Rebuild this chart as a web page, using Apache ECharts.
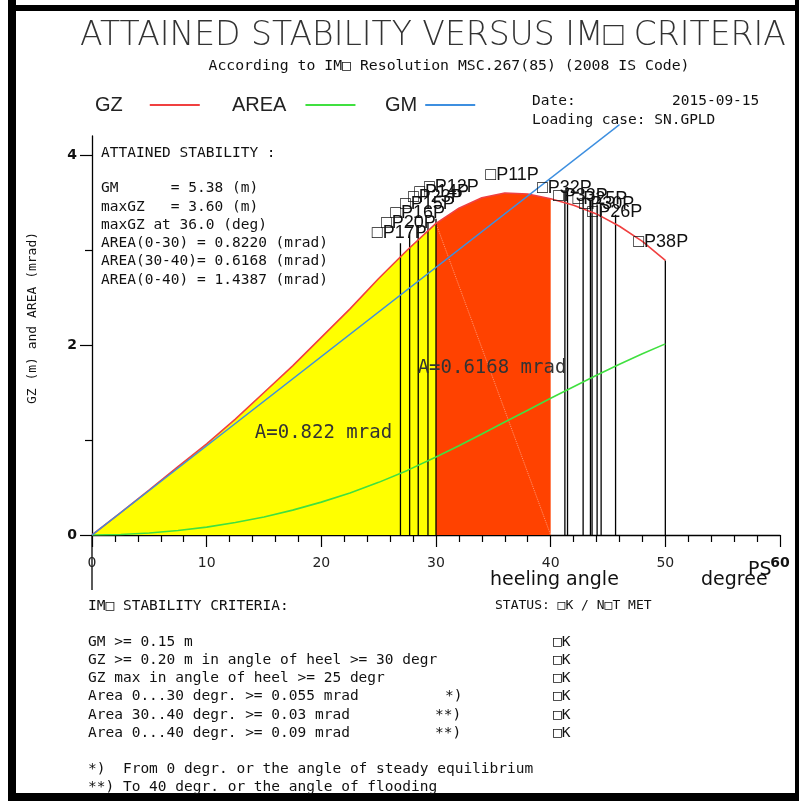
<!DOCTYPE html>
<html><head><meta charset="utf-8">
<script src="https://cdn.jsdelivr.net/npm/echarts@6/dist/echarts.min.js"></script>
<style>html,body{margin:0;padding:0;background:#fff;}#c{width:799px;height:801px;}</style>
</head><body><div id="c"></div>
<script>
// ---- data ----
const gzAngles   = [0,2.5,5,7.5,10,12.5,15,17.5,20,22.5,25,27.5,30,32,34,36,38,40,42,44,46,48,50];
const gzValues   = [0,0.235,0.475,0.72,0.96,1.22,1.50,1.78,2.08,2.38,2.70,3.00,3.28,3.44,3.55,3.60,3.59,3.54,3.47,3.38,3.25,3.09,2.89];
const areaValues = [0,0.005,0.021,0.047,0.083,0.131,0.19,0.262,0.346,0.443,0.554,0.68,0.822,0.94,1.063,1.189,1.314,1.439,1.561,1.681,1.797,1.907,2.012];
const gmAngles = [0, 46.0];
const gmValues = [0, 4.32];
const floodAngles = [26.9,27.7,28.45,29.3,30.0,41.24,41.47,42.83,43.47,43.61,44.05,44.40,45.66,50.0];
const floodTops   = [3.07,3.19,3.26,3.29,3.33,3.63,3.63,3.56,3.53,3.53,3.48,3.46,3.37,2.89];
const pointNames  = ['□P17P','□P20P','□P16P','□P15P','□P23P','□P14P','□P12P','□P11P','□P32P','□P33P','□P25P','□P30P','□P26P','□P38P'];
const pointAngles = [24.4,25.2,26.0,26.85,27.55,28.1,28.95,34.3,38.8,40.2,41.9,42.5,43.2,47.2];
const pointValues = [3.18,3.28,3.39,3.48,3.56,3.61,3.66,3.79,3.65,3.57,3.54,3.48,3.40,3.08];
const areaLabels = ['A=0.822 mrad','A=0.6168 mrad'];
const areaLabelAngles = [14.2, 28.4];
const areaLabelValues = [1.07, 1.76];
const yLabelValues = [0,2,4];
const yMinorValues = [1,3];
const criteriaRows = ['GM >= 0.15 m','GZ >= 0.20 m in angle of heel >= 30 degr','GZ max in angle of heel >= 25 degr','Area 0...30 degr. >= 0.055 mrad','Area 30..40 degr. >= 0.03 mrad','Area 0...40 degr. >= 0.09 mrad'];
const criteriaMarks = ['','','','*)','**)','**)'];
const criteriaStatus = ['□K','□K','□K','□K','□K','□K'];
const infoLines = ['ATTAINED STABILITY :','','GM      = 5.38 (m)','maxGZ   = 3.60 (m)','maxGZ at 36.0 (deg)','AREA(0-30) = 0.8220 (mrad)','AREA(30-40)= 0.6168 (mrad)','AREA(0-40) = 1.4387 (mrad)'];

// ---- build ----
const gz = gzAngles.map((a,i)=>[a,gzValues[i]]);
const area = gzAngles.map((a,i)=>[a,areaValues[i]]);
const gm = gmAngles.map((a,i)=>[a,gmValues[i]]);
const yellow = gz.filter(p=>p[0]<=30);
const orange = gz.filter(p=>p[0]>=30 && p[0]<=40);
const diag = [gz.find(p=>p[0]===30), [40,0]];
const flood = floodAngles.map((a,i)=>[a,floodTops[i]]);
const points = pointAngles.map((a,i)=>[a,pointValues[i]]);
const aLabels = areaLabelAngles.map((a,i)=>[a,areaLabelValues[i]]);

const MONO = "'DejaVu Sans Mono'";
const SANS = "'Liberation Sans'";
const chart = echarts.init(document.getElementById('c'), null, {renderer:'canvas'});

const graphics = [
  {type:'rect', shape:{x:8,y:0,width:8,height:801}, style:{fill:'#000'}},
  {type:'rect', shape:{x:8,y:5,width:791,height:6}, style:{fill:'#000'}},
  {type:'rect', shape:{x:795,y:0,width:4,height:801}, style:{fill:'#000'}},
  {type:'rect', shape:{x:8,y:793,width:791,height:8}, style:{fill:'#000'}},
  // y-axis extension below the x-axis (decoration)
  {type:'line', shape:{x1:92,y1:535,x2:92,y2:590}, style:{stroke:'#000', lineWidth:1.3}},
  {type:'text', x:80, y:36, style:{text:'ATTAINED STABILITY VERSUS IM□ CRITERIA', font:"200 33px 'DejaVu Sans'", fill:'#333', align:'left', verticalAlign:'middle'}},
  {type:'text', x:449, y:66, style:{text:'According to IM□ Resolution MSC.267(85) (2008 IS Code)', font:"14.8px "+MONO, fill:'#111', align:'center', verticalAlign:'middle'}},
  {type:'text', x:532, y:101, style:{text:'Date:', font:"14.5px "+MONO, fill:'#111', verticalAlign:'middle'}},
  {type:'text', x:672, y:101, style:{text:'2015-09-15', font:"14.5px "+MONO, fill:'#111', verticalAlign:'middle'}},
  {type:'text', x:532, y:120, style:{text:'Loading case: SN.GPLD', font:"14.5px "+MONO, fill:'#111', verticalAlign:'middle'}},
  {type:'text', x:33, y:318, rotation:Math.PI/2, style:{text:'GZ (m) and AREA (mrad)', font:"13px "+MONO, fill:'#111', align:'center', verticalAlign:'middle'}},
  {type:'text', x:490, y:580, style:{text:'heeling angle', font:"19px 'DejaVu Sans'", fill:'#111', verticalAlign:'middle'}},
  {type:'text', x:701, y:580, style:{text:'degree', font:"19px 'DejaVu Sans'", fill:'#111', verticalAlign:'middle'}},
  {type:'text', x:748, y:570, style:{text:'PS', font:"19px 'DejaVu Sans'", fill:'#111', verticalAlign:'middle'}},
  {type:'text', x:88, y:606, style:{text:'IM□ STABILITY CRITERIA:', font:"14.5px "+MONO, fill:'#111', verticalAlign:'middle'}},
  {type:'text', x:495, y:606, style:{text:'STATUS: □K / N□T MET', font:"13px "+MONO, fill:'#111', verticalAlign:'middle'}},
  {type:'text', x:88, y:769, style:{text:'*)  From 0 degr. or the angle of steady equilibrium', font:"14.5px "+MONO, fill:'#111', verticalAlign:'middle'}},
  {type:'text', x:88, y:787, style:{text:'**) To 40 degr. or the angle of flooding', font:"14.5px "+MONO, fill:'#111', verticalAlign:'middle'}}
];
infoLines.forEach((t,i)=>{
  const ys=[153,170,188,207,225,243,261,280];
  if(t) graphics.push({type:'text', x:101, y:ys[i], style:{text:t, font:"14.5px "+MONO, fill:'#111', verticalAlign:'middle'}});
});
criteriaRows.forEach((t,i)=>{
  const y = 642 + i*18.2;
  graphics.push({type:'text', x:88, y:y, style:{text:t, font:"14.5px "+MONO, fill:'#111', verticalAlign:'middle'}});
  if(criteriaMarks[i]) graphics.push({type:'text', x:criteriaMarks[i]==='*)'?445:435, y:y, style:{text:criteriaMarks[i], font:"14.5px "+MONO, fill:'#111', verticalAlign:'middle'}});
  graphics.push({type:'text', x:553, y:y, style:{text:criteriaStatus[i], font:"14.5px "+MONO, fill:'#111', verticalAlign:'middle'}});
});

function mkLegend(name, left, pad){
  return {data:[name], left:left, top:95, padding:0, align:'right', icon:'rect', itemWidth:50, itemHeight:2, selectedMode:false,
    textStyle:{fontFamily:'Liberation Sans', fontSize:20, color:'#222', padding:[0,pad,0,0]}};
}

chart.setOption({
  animation:false,
  backgroundColor:'#fff',
  legend:[mkLegend('GZ',95,22), mkLegend('AREA',232,14), mkLegend('GM',385,3)],
  grid:{left:92, right:19, top:136, bottom:266, containLabel:false},
  xAxis:{type:'value', min:0, max:60, interval:10,
    axisLine:{onZero:false, lineStyle:{color:'#000', width:1.3}},
    axisTick:{length:12, lineStyle:{color:'#000', width:1.2}},
    minorTick:{show:true, splitNumber:5, length:7, lineStyle:{color:'#000', width:1.2}},
    splitLine:{show:false}, minorSplitLine:{show:false},
    axisLabel:{margin:21, fontFamily:'DejaVu Sans', fontSize:14, color:'#222',
      formatter:v=> v===60 ? '{b|60}' : String(v), rich:{b:{fontWeight:'bold', fontSize:14, fontFamily:'DejaVu Sans', color:'#111', padding:[0,0,6,0]}}}
  },
  yAxis:[
    {type:'value', min:0, max:4.2, position:'left',
      axisLine:{onZero:false, lineStyle:{color:'#000', width:1.3}},
      axisTick:{customValues:yLabelValues, length:12, lineStyle:{color:'#000', width:1.2}},
      axisLabel:{customValues:yLabelValues, margin:15, fontFamily:'DejaVu Sans', fontWeight:'bold', fontSize:14, color:'#111'},
      splitLine:{show:false}},
    {type:'value', min:0, max:4.2, position:'left',
      axisLine:{show:false},
      axisTick:{customValues:yMinorValues, length:7, lineStyle:{color:'#000', width:1.2}},
      axisLabel:{show:false}, splitLine:{show:false}}
  ],
  graphic:graphics,
  series:[
    {name:'fill030', type:'line', data:yellow, symbol:'none', lineStyle:{width:0}, areaStyle:{color:'#ffff00', opacity:1}, z:1, silent:true},
    {name:'fill3040', type:'line', data:orange, symbol:'none', lineStyle:{width:0}, areaStyle:{color:'#ff4200', opacity:1}, z:1, silent:true},
    {name:'diag', type:'line', data:diag, symbol:'none', lineStyle:{color:'rgba(255,255,255,0.45)', width:1, type:'dotted'}, z:2, silent:true},
    {name:'flood', type:'custom', data:flood, encode:{x:0,y:1}, z:3, silent:true, clip:false,
      renderItem:(params, api)=>{
        const p0 = api.coord([api.value(0),0]);
        const p1 = api.coord([api.value(0),api.value(1)]);
        return {type:'line', shape:{x1:p0[0],y1:p0[1],x2:p1[0],y2:p1[1]}, style:{stroke:'#000', lineWidth:1.3}};
      }},
    {name:'GZ', type:'line', data:gz, symbol:'none', color:'#f04040', itemStyle:{color:'#f04040'}, lineStyle:{color:'#f04040', width:1.6}, z:5},
    {name:'AREA', type:'line', data:area, symbol:'none', color:'#40e040', itemStyle:{color:'#40e040'}, lineStyle:{color:'#40e040', width:1.6}, z:5},
    {name:'GM', type:'line', data:gm, symbol:'none', clip:false, color:'#3d8fe0', itemStyle:{color:'#3d8fe0'}, lineStyle:{color:'#3d8fe0', width:1.4}, z:6},
    {name:'points', type:'custom', data:points, encode:{x:0,y:1}, z:8, silent:true, clip:false,
      renderItem:(params, api)=>{
        const p = api.coord([api.value(0),api.value(1)]);
        return {type:'text', x:p[0], y:p[1], style:{text:pointNames[params.dataIndex], font:"18px "+SANS, fill:'#111', align:'left', verticalAlign:'middle'}};
      }},
    {name:'alabels', type:'custom', data:aLabels, encode:{x:0,y:1}, z:8, silent:true, clip:false,
      renderItem:(params, api)=>{
        const p = api.coord([api.value(0),api.value(1)]);
        return {type:'text', x:p[0], y:p[1], style:{text:areaLabels[params.dataIndex], font:"19px "+MONO, fill:'#333', align:'left', verticalAlign:'middle'}};
      }}
  ]
});
</script></body></html>
